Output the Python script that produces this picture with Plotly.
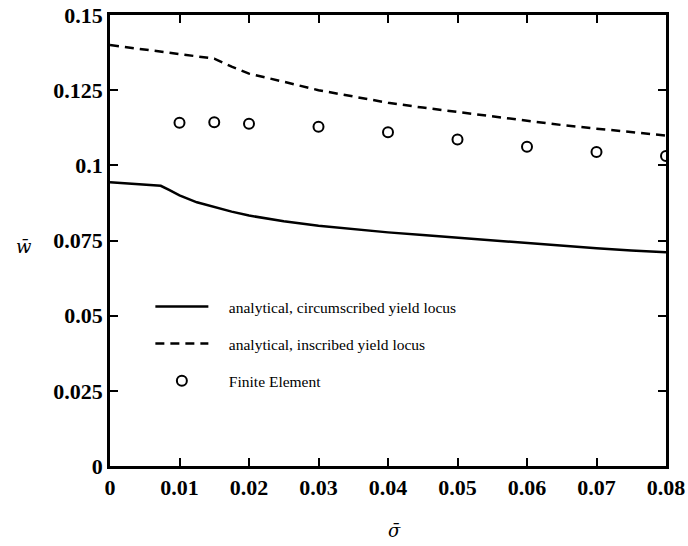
import plotly.graph_objects as go

# Data
circ_x = [0, 0.0073, 0.0085, 0.01, 0.0125, 0.015, 0.0175, 0.02, 0.025, 0.03, 0.035,
          0.04, 0.045, 0.05, 0.055, 0.06, 0.065, 0.07, 0.075, 0.08]
circ_y = [0.0944, 0.0932, 0.0918, 0.0900, 0.0877, 0.0861, 0.0846, 0.0833, 0.0814, 0.0799,
          0.0787, 0.0777, 0.0768, 0.0759, 0.0749, 0.0740, 0.0732, 0.0724, 0.0717, 0.0711]

insc_x = [0, 0.005, 0.01, 0.015, 0.0175, 0.02, 0.025, 0.03, 0.035, 0.04, 0.045,
          0.05, 0.055, 0.06, 0.065, 0.07, 0.075, 0.08]
insc_y = [0.1400, 0.1385, 0.1370, 0.1355, 0.1328, 0.1305, 0.1278, 0.1250, 0.1229, 0.1208,
          0.1192, 0.1177, 0.1162, 0.1148, 0.1134, 0.1122, 0.1110, 0.1099]

fe_x = [0.01, 0.015, 0.02, 0.03, 0.04, 0.05, 0.06, 0.07, 0.08]
fe_y = [0.1142, 0.1143, 0.1138, 0.1128, 0.1110, 0.1086, 0.1062, 0.1044, 0.1031]

x_ticks = [0, 0.01, 0.02, 0.03, 0.04, 0.05, 0.06, 0.07, 0.08]
x_labels = ["0", "0.01", "0.02", "0.03", "0.04", "0.05", "0.06", "0.07", "0.08"]
y_ticks = [0, 0.025, 0.05, 0.075, 0.1, 0.125, 0.15]
y_labels = ["0", "0.025", "0.05", "0.075", "0.1", "0.125", "0.15"]

names = ["analytical, circumscribed yield locus",
         "analytical, inscribed yield locus",
         "Finite Element"]
pad = "\u00a0\u00a0\u00a0\u00a0"

fig = go.Figure()
fig.add_trace(go.Scatter(x=circ_x, y=circ_y, mode="lines",
                         name=pad + names[0], legendgroup="a",
                         line=dict(color="black", width=2.5)))
fig.add_trace(go.Scatter(x=insc_x, y=insc_y, mode="lines",
                         name=pad + names[1], legendgroup="b",
                         line=dict(color="black", width=2.5, dash="9px,6px")))
fig.add_trace(go.Scatter(x=fe_x, y=fe_y, mode="markers",
                         name=pad + names[2], legendgroup="c",
                         marker=dict(symbol="circle-open", size=10, color="black",
                                     line=dict(width=2, color="black"))))

axis_common = dict(
    showgrid=False, zeroline=False, showline=True, linecolor="black", linewidth=2.5,
    mirror="ticks", ticks="inside", ticklen=8, tickwidth=2, tickcolor="black",
    automargin=False, ticklabeloverflow="allow",
    tickfont=dict(family="Liberation Serif", size=22, color="black", weight="bold"),
)

fig.update_xaxes(range=[0, 0.08], tickvals=x_ticks, ticktext=x_labels, **axis_common)
fig.update_yaxes(range=[0, 0.15], tickvals=y_ticks, ticktext=y_labels, **axis_common)

fig.update_layout(
    width=688, height=546,
    margin=dict(l=110, r=22, t=15, b=80),
    paper_bgcolor="white", plot_bgcolor="white",
    showlegend=True,
    legend=dict(x=0.0726, y=0.3905, xanchor="left", yanchor="top",
                bgcolor="rgba(0,0,0,0)", tracegroupgap=14, itemwidth=53,
                font=dict(family="Liberation Serif", size=15.5, color="black")),
    annotations=[
        dict(text="<i>w\u0304</i>", xref="paper", yref="paper", x=-0.155, y=0.486,
             xanchor="center", yanchor="middle", showarrow=False,
             font=dict(family="DejaVu Serif", size=18, color="black")),
        dict(text="<i>\u03c3\u0304</i>", xref="paper", yref="paper", x=0.511, y=-0.142,
             xanchor="center", yanchor="middle", showarrow=False,
             font=dict(family="DejaVu Serif", size=18, color="black")),
    ],
)

fig.write_html("out.html", config={"displayModeBar": False},
               post_script="document.body.style.margin='0px';")
